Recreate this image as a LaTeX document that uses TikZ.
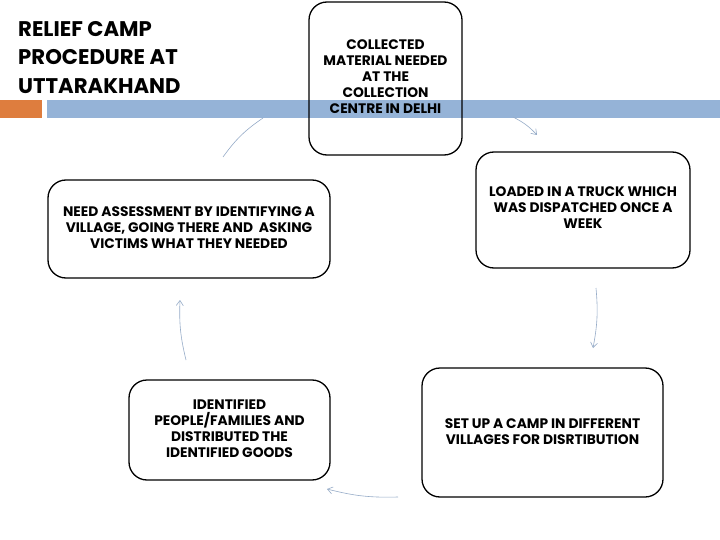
\documentclass[tikz,border=0pt]{standalone}
\usepackage{fontspec}
\setmainfont{Poppins}
\usetikzlibrary{arrows.meta}
\definecolor{barblue}{RGB}{149,179,215}
\definecolor{barorange}{RGB}{222,125,62}
\definecolor{arrowc}{RGB}{150,172,200}
\tikzset{
  stepbox/.style={draw=black, line width=1.3pt, rounded corners=18pt, inner sep=0pt},
  steptext/.style={font=\fontsize{13.8}{16}\selectfont\bfseries, align=center, inner sep=0pt},
  flow/.style={draw=arrowc, line width=0.6pt, -{Straight Barb[length=5pt,width=7pt]}},
}
\begin{document}
\begin{tikzpicture}[x=1pt,y=-1pt]
\useasboundingbox (0,0) rectangle (720,540);
\fill[white] (0,0) rectangle (720,540);
% bars
\fill[barorange] (0,100) rectangle (42,118);
\fill[barblue] (47,100) rectangle (720,118);
% title
\node[anchor=north west, align=left, font=\fontsize{21.2}{28.5}\selectfont\bfseries, inner sep=0pt] (title) at (18,21) {RELIEF CAMP\\PROCEDURE AT\\UTTARAKHAND};
% boxes
\node[stepbox, minimum width=153pt, minimum height=153pt] (b1) at (385.5,78.5) {};
\node[steptext] (t1) at (385.5,77) {COLLECTED\\MATERIAL NEEDED\\AT THE\\COLLECTION\\CENTRE IN DELHI};
\node[stepbox, minimum width=214pt, minimum height=116pt] (b2) at (583,210) {};
\node[steptext] (t2) at (583,208) {LOADED IN A TRUCK WHICH\\WAS DISPATCHED ONCE A\\WEEK};
\node[stepbox, minimum width=241pt, minimum height=129pt] (b3) at (542.5,432.5) {};
\node[steptext] (t3) at (542.5,432) {SET UP A CAMP IN DIFFERENT\\VILLAGES FOR DISRTIBUTION};
\node[stepbox, minimum width=201pt, minimum height=100pt] (b4) at (229.5,430) {};
\node[steptext] (t4) at (229.5,429) {IDENTIFIED\\PEOPLE/FAMILIES AND\\DISTRIBUTED THE\\IDENTIFIED GOODS};
\node[stepbox, minimum width=282pt, minimum height=98pt] (b5) at (189,229) {};
\node[steptext] (t5) at (189,228) {NEED ASSESSMENT BY IDENTIFYING A\\VILLAGE, GOING THERE AND~ ASKING\\VICTIMS WHAT THEY NEEDED};
% connector points
\coordinate (a1s) at (513,117); \coordinate (a1e) at (537,135);
\coordinate (a2s) at (596,288); \coordinate (a2e) at (593,348);
\coordinate (a3s) at (398,497); \coordinate (a3e) at (327,489);
\coordinate (a4s) at (186,360); \coordinate (a4e) at (180,300);
\coordinate (a5s) at (223,157); \coordinate (a5e) at (263,118);
\draw[flow] (a1s) to[bend left=10] (a1e);
\draw[flow] (a2s) to[bend left=8] (a2e);
\draw[flow] (a3s) to[bend left=8] (a3e);
\draw[flow] (a4s) to[bend left=8] (a4e);
\draw[draw=arrowc, line width=0.6pt] (a5s) to[bend left=10] (a5e);
\end{tikzpicture}
\end{document}
